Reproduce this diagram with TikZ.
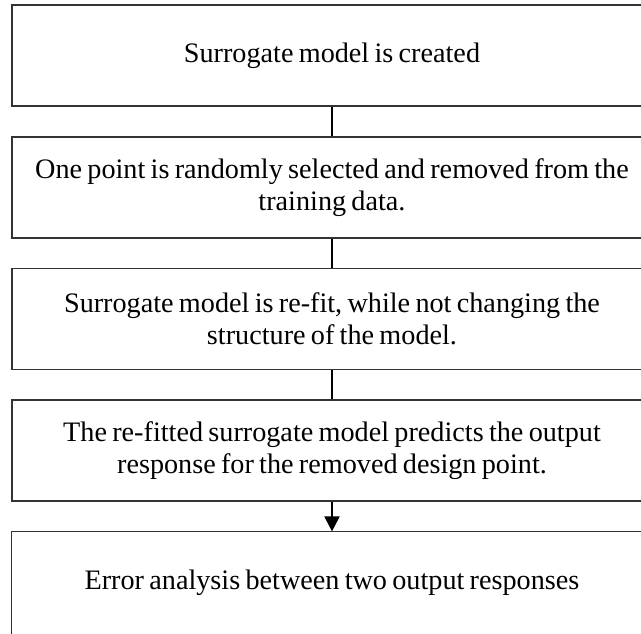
\documentclass[tikz,border=0pt]{standalone}
\usepackage{fontspec}
\setmainfont[WordSpace=0.75]{Liberation Serif}
\usetikzlibrary{arrows.meta,positioning}

\tikzset{
  stepbox/.style={
    rectangle, draw=black!80, line width=1.2pt,
    inner sep=0pt, text width=640pt, minimum height=101pt,
    align=flush center,
    font=\fontsize{28.2pt}{32pt}\selectfont
  },
  openbox/.style={stepbox, draw=none},
  link/.style={line width=2pt, black},
  flowarrow/.style={link, -{Triangle[length=15pt,width=15pt]}}
}

\begin{document}
\begin{tikzpicture}[x=1pt,y=1pt]
  \useasboundingbox (0,0) rectangle (641,-634);
  \clip (0,0) rectangle (641,-634);

  % the five steps of the leave-one-out check
  \node[stepbox]  (s1) at (332,-55.5)  {Surrogate model is created};
  \node[stepbox]  (s2) at (332,-187.5) {One point is randomly selected and removed from the\\ training data.};
  \node[stepbox]  (s3) at (332,-319)   {Surrogate model is re-fit, while not changing the\\ structure of the model.};
  \node[stepbox]  (s4) at (332,-450.5) {The re-fitted surrogate model predicts the output\\ response for the removed design point.};
  \node[openbox]  (s5) at (332,-582.5) {Error analysis between two output responses};

  % last box runs off the page, so only its left side and top are drawn
  \draw[black!80, line width=1.2pt]
    ([yshift=-20pt]s5.south west) |- ([xshift=10pt]s5.north east);

  % connectors
  \draw[link] (s1.south) -- (s2.north);
  \draw[link] (s2.south) -- (s3.north);
  \draw[link] (s3.south) -- (s4.north);
  \draw[flowarrow] (s4.south) -- (s5.north);
\end{tikzpicture}
\end{document}
